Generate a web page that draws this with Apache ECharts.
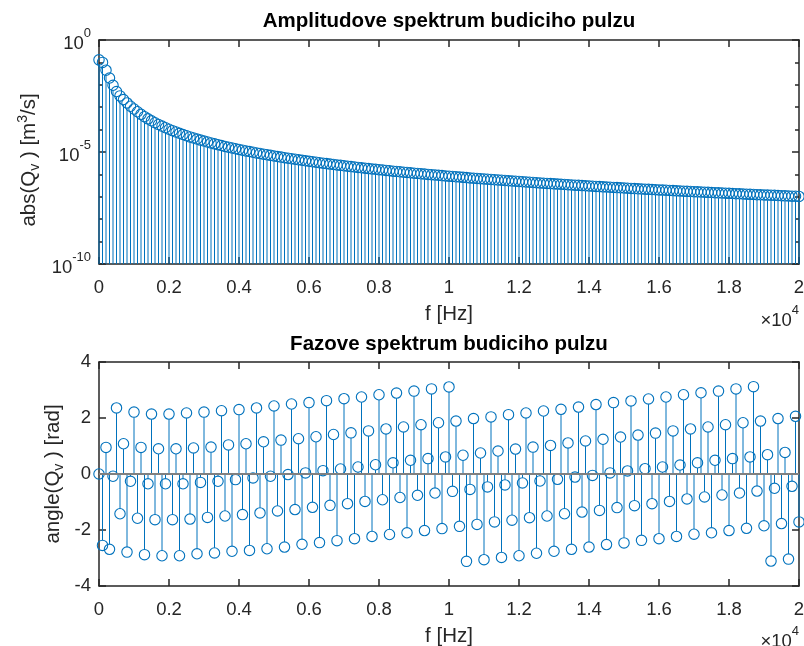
<!DOCTYPE html>
<html><head><meta charset="utf-8">
<script src="https://cdn.jsdelivr.net/npm/echarts@6/dist/echarts.min.js"></script>
<style>html,body{margin:0;padding:0;background:#fff}#c{width:804px;height:646px}</style>
</head><body><div id="c"></div>
<script>
// frequency grid [Hz]
const freqHz = [0,100,200,300,400,500,600,700,800,900,1000,1100,1200,1300,1400,1500,1600,1700,1800,1900,
2000,2100,2200,2300,2400,2500,2600,2700,2800,2900,3000,3100,3200,3300,3400,3500,3600,3700,3800,3900,
4000,4100,4200,4300,4400,4500,4600,4700,4800,4900,5000,5100,5200,5300,5400,5500,5600,5700,5800,5900,
6000,6100,6200,6300,6400,6500,6600,6700,6800,6900,7000,7100,7200,7300,7400,7500,7600,7700,7800,7900,
8000,8100,8200,8300,8400,8500,8600,8700,8800,8900,9000,9100,9200,9300,9400,9500,9600,9700,9800,9900,
10000,10100,10200,10300,10400,10500,10600,10700,10800,10900,11000,11100,11200,11300,11400,11500,11600,11700,11800,11900,
12000,12100,12200,12300,12400,12500,12600,12700,12800,12900,13000,13100,13200,13300,13400,13500,13600,13700,13800,13900,
14000,14100,14200,14300,14400,14500,14600,14700,14800,14900,15000,15100,15200,15300,15400,15500,15600,15700,15800,15900,
16000,16100,16200,16300,16400,16500,16600,16700,16800,16900,17000,17100,17200,17300,17400,17500,17600,17700,17800,17900,
18000,18100,18200,18300,18400,18500,18600,18700,18800,18900,19000,19100,19200,19300,19400,19500,19600,19700,19800,19900,
20000];

// |Q_v| [m^3/s]
const ampAbs = [1.3e-1,1.0e-1,4.5e-2,2.0e-2,9.5e-3,5.0e-3,3.2e-3,2.2e-3,1.55e-3,1.1e-3,
8.32e-4,6.25e-4,4.81e-4,3.79e-4,3.03e-4,2.47e-4,2.03e-4,1.69e-4,1.43e-4,1.21e-4,
1.04e-4,8.98e-5,7.81e-5,6.84e-5,6.02e-5,5.32e-5,4.73e-5,4.23e-5,3.79e-5,3.41e-5,
3.08e-5,2.79e-5,2.54e-5,2.32e-5,2.12e-5,1.94e-5,1.78e-5,1.64e-5,1.52e-5,1.40e-5,
1.30e-5,1.21e-5,1.12e-5,1.05e-5,9.77e-6,9.13e-6,8.55e-6,8.01e-6,7.52e-6,7.07e-6,
6.66e-6,6.27e-6,5.92e-6,5.59e-6,5.28e-6,5.00e-6,4.74e-6,4.49e-6,4.26e-6,4.05e-6,
3.85e-6,3.67e-6,3.49e-6,3.33e-6,3.17e-6,3.03e-6,2.89e-6,2.77e-6,2.65e-6,2.53e-6,
2.43e-6,2.32e-6,2.23e-6,2.14e-6,2.05e-6,1.97e-6,1.90e-6,1.82e-6,1.75e-6,1.69e-6,
1.63e-6,1.57e-6,1.51e-6,1.46e-6,1.40e-6,1.35e-6,1.31e-6,1.26e-6,1.22e-6,1.18e-6,
1.14e-6,1.10e-6,1.07e-6,1.03e-6,1.00e-6,9.70e-7,9.40e-7,9.12e-7,8.84e-7,8.57e-7,
8.32e-7,8.08e-7,7.84e-7,7.61e-7,7.40e-7,7.19e-7,6.99e-7,6.79e-7,6.60e-7,6.42e-7,
6.25e-7,6.08e-7,5.92e-7,5.77e-7,5.62e-7,5.47e-7,5.33e-7,5.19e-7,5.06e-7,4.94e-7,
4.81e-7,4.70e-7,4.58e-7,4.47e-7,4.36e-7,4.26e-7,4.16e-7,4.06e-7,3.97e-7,3.88e-7,
3.79e-7,3.70e-7,3.62e-7,3.54e-7,3.46e-7,3.38e-7,3.31e-7,3.24e-7,3.17e-7,3.10e-7,
3.03e-7,2.97e-7,2.91e-7,2.85e-7,2.79e-7,2.73e-7,2.67e-7,2.62e-7,2.57e-7,2.52e-7,
2.47e-7,2.42e-7,2.37e-7,2.32e-7,2.28e-7,2.23e-7,2.19e-7,2.15e-7,2.11e-7,2.07e-7,
2.03e-7,1.99e-7,1.96e-7,1.92e-7,1.89e-7,1.85e-7,1.82e-7,1.79e-7,1.75e-7,1.72e-7,
1.69e-7,1.66e-7,1.64e-7,1.61e-7,1.58e-7,1.55e-7,1.53e-7,1.50e-7,1.48e-7,1.45e-7,
1.43e-7,1.40e-7,1.38e-7,1.36e-7,1.34e-7,1.31e-7,1.29e-7,1.27e-7,1.25e-7,1.23e-7,
1.21e-7,1.19e-7,1.18e-7,1.16e-7,1.14e-7,1.12e-7,1.10e-7,1.09e-7,1.07e-7,1.06e-7,
1.04e-7];

// angle(Q_v) [rad]
const phaseRad = [0,-2.55,0.95,-2.69,-0.08,2.36,-1.42,1.08,-2.79,-0.26,
2.21,-1.58,0.95,-2.88,-0.35,2.14,-1.63,0.90,-2.92,-0.35,
2.14,-1.63,0.90,-2.92,-0.35,2.18,-1.61,0.93,-2.85,-0.30,
2.21,-1.55,0.96,-2.82,-0.26,2.26,-1.50,1.04,-2.76,-0.20,
2.30,-1.45,1.08,-2.73,-0.14,2.36,-1.39,1.15,-2.67,-0.08,
2.43,-1.32,1.21,-2.61,-0.02,2.50,-1.27,1.26,-2.51,0.04,
2.55,-1.19,1.33,-2.45,0.12,2.62,-1.12,1.41,-2.38,0.18,
2.69,-1.06,1.47,-2.31,0.25,2.75,-0.98,1.54,-2.23,0.33,
2.83,-0.92,1.61,-2.16,0.40,2.89,-0.84,1.68,-2.10,0.49,
2.96,-0.76,1.76,-2.02,0.55,3.04,-0.68,1.83,-1.95,0.61,
3.11,-0.62,1.89,-1.87,0.67,-3.12,-0.55,1.98,-1.80,0.75,
-3.06,-0.46,2.04,-1.71,0.82,-2.98,-0.39,2.12,-1.65,0.89,
-2.92,-0.32,2.18,-1.56,0.96,-2.83,-0.25,2.25,-1.50,1.02,
-2.76,-0.19,2.31,-1.42,1.11,-2.69,-0.11,2.39,-1.36,1.18,
-2.61,-0.05,2.48,-1.30,1.24,-2.52,0.04,2.55,-1.20,1.32,
-2.46,0.11,2.61,-1.13,1.39,-2.37,0.19,2.68,-1.06,1.46,
-2.31,0.25,2.75,-0.98,1.54,-2.23,0.32,2.83,-0.89,1.61,
-2.15,0.40,2.90,-0.82,1.68,-2.10,0.49,2.96,-0.75,1.76,
-2.02,0.55,3.04,-0.68,1.83,-1.94,0.61,3.12,-0.61,1.89,
-1.85,0.69,-3.11,-0.51,1.98,-1.77,0.77,-3.04,-0.44,2.06,
-1.71];

// tick labels
const xTickValues = [0,2000,4000,6000,8000,10000,12000,14000,16000,18000,20000];
const xTickLabels = ['0','0.2','0.4','0.6','0.8','1','1.2','1.4','1.6','1.8','2'];
const ampMajorTicks = [1e-10,1e-5,1];
const ampMajorExp = ['-10','-5','0'];
const ampMinorTicks = [1e-10,1e-9,1e-8,1e-7,1e-6,1e-5,1e-4,1e-3,1e-2,1e-1,1];
const phaseTicks = [-4,-2,0,2,4];

const FONT = '"Liberation Sans", Arial, Helvetica, sans-serif';
const AX = '#262626';
const BLUE = '#0072BD';
const R = 5.2;

const chart = echarts.init(document.getElementById('c'), null, {renderer: 'canvas'});

function xAxisDef(grid, pos, labels) {
  return {
    gridIndex: grid, type: 'value', position: pos, min: 0, max: 20000, interval: 2000,
    axisLine: {show: true, onZero: false, lineStyle: {color: AX, width: 1.5}},
    axisTick: {show: true, inside: true, length: 7, lineStyle: {color: AX, width: 1.5}},
    axisLabel: {show: labels, margin: 14, color: AX, fontSize: 18.5, fontFamily: FONT,
      formatter: v => xTickLabels[xTickValues.indexOf(v)] ?? ''},
    splitLine: {show: false},
    name: labels ? 'f [Hz]' : '', nameLocation: 'middle', nameGap: 40,
    nameTextStyle: {color: AX, fontSize: 20.5, fontFamily: FONT}
  };
}

const supRich = {
  b: {fontSize: 18.5, lineHeight: 26, verticalAlign: 'bottom', color: AX, fontFamily: FONT},
  s: {fontSize: 13, lineHeight: 13, verticalAlign: 'top', color: AX, fontFamily: FONT}
};

function logAxis(pos, major, labels) {
  return {
    gridIndex: 0, type: 'log', logBase: 10, position: pos, min: 1e-10, max: 1,
    axisLine: {show: major, onZero: false, lineStyle: {color: AX, width: 1.5}},
    axisTick: {show: true, inside: true, length: major ? 7 : 4,
      customValues: major ? ampMajorTicks : ampMinorTicks, lineStyle: {color: AX, width: 1.5}},
    axisLabel: {show: labels, customValues: ampMajorTicks, margin: 8,
      formatter: v => {
        let best = 0, bd = Infinity;
        ampMajorTicks.forEach((t, i) => { const d = Math.abs(Math.log10(t) - Math.log10(v)); if (d < bd) { bd = d; best = i; } });
        return '{b|10}{s|' + ampMajorExp[best] + '}';
      },
      rich: supRich},
    splitLine: {show: false}
  };
}

function phaseAxis(pos, labels) {
  return {
    gridIndex: 1, type: 'value', position: pos, min: -4, max: 4, interval: 2,
    axisLine: {show: true, onZero: false, lineStyle: {color: AX, width: 1.5}},
    axisTick: {show: true, inside: true, length: 7, lineStyle: {color: AX, width: 1.5}},
    axisLabel: {show: labels, margin: 8, color: AX, fontSize: 18.5, fontFamily: FONT,
      formatter: v => phaseTicks.includes(v) ? String(v) : ''},
    splitLine: {show: false}
  };
}

function stemRender(baseVal) {
  return function (params, api) {
    const x = api.value(0), y = api.value(1);
    const p = api.coord([x, y]);
    const b = api.coord([x, baseVal]);
    const dir = p[1] < b[1] ? 1 : -1;
    let yEnd = p[1] + dir * R;
    if ((b[1] - yEnd) * dir < 0) yEnd = b[1];
    return {
      type: 'group',
      children: [
        {type: 'line', shape: {x1: p[0], y1: b[1], x2: p[0], y2: yEnd}, style: {stroke: BLUE, lineWidth: 1}},
        {type: 'circle', shape: {cx: p[0], cy: p[1], r: R}, style: {fill: 'none', stroke: BLUE, lineWidth: 1.1}}
      ]
    };
  };
}

const labRich = {
  a: {fontSize: 20.5, lineHeight: 26, fontFamily: FONT, fill: AX},
  s: {fontSize: 14, lineHeight: 14, verticalAlign: 'bottom', fontFamily: FONT, fill: AX},
  p: {fontSize: 14, lineHeight: 14, verticalAlign: 'top', fontFamily: FONT, fill: AX}
};
const expRich = {
  a: {fontSize: 18.5, lineHeight: 26, verticalAlign: 'bottom', fontFamily: FONT, fill: AX},
  s: {fontSize: 13, lineHeight: 9, verticalAlign: 'top', fontFamily: FONT, fill: AX}
};

const option = {
  animation: false,
  textStyle: {fontFamily: FONT},
  grid: [
    {left: 99, top: 40, width: 700, height: 224, outerBoundsMode: 'none', containLabel: false},
    {left: 99, top: 362, width: 700, height: 224, outerBoundsMode: 'none', containLabel: false}
  ],
  xAxis: [xAxisDef(0, 'bottom', true), xAxisDef(0, 'top', false), xAxisDef(1, 'bottom', true), xAxisDef(1, 'top', false)],
  yAxis: [logAxis('left', true, true), logAxis('left', false, false), logAxis('right', true, false), logAxis('right', false, false),
          phaseAxis('left', true), phaseAxis('right', false)],
  series: [
    {type: 'custom', xAxisIndex: 0, yAxisIndex: 0, silent: true, clip: false, z: 3,
     renderItem: stemRender(1e-10), data: freqHz.map((f, i) => [f, ampAbs[i]])},
    {type: 'line', xAxisIndex: 2, yAxisIndex: 4, silent: true, symbol: 'none', z: 4,
     lineStyle: {color: '#808080', width: 2}, data: [[freqHz[0], 0], [freqHz[freqHz.length - 1], 0]]},
    {type: 'custom', xAxisIndex: 2, yAxisIndex: 4, silent: true, clip: false, z: 3,
     renderItem: stemRender(0), data: freqHz.map((f, i) => [f, phaseRad[i]])}
  ],
  graphic: [
    {type: 'text', x: 449, y: 21, style: {text: 'Amplitudove spektrum budiciho pulzu', fill: '#000',
      font: 'bold 20.5px ' + FONT, align: 'center', verticalAlign: 'middle'}},
    {type: 'text', x: 449, y: 344.5, style: {text: 'Fazove spektrum budiciho pulzu', fill: '#000',
      font: 'bold 20.5px ' + FONT, align: 'center', verticalAlign: 'middle'}},
    {type: 'text', x: 29, y: 160, rotation: Math.PI / 2, style: {text: '{a|abs(Q}{s|v}{a| ) [m}{p|3}{a|/s]}',
      rich: labRich, align: 'center', verticalAlign: 'middle'}},
    {type: 'text', x: 53, y: 474, rotation: Math.PI / 2, style: {text: '{a|angle(Q}{s|v}{a| ) [rad]}',
      rich: labRich, align: 'center', verticalAlign: 'middle'}},
    {type: 'text', x: 799, y: 317, style: {text: '{a|×10}{s|4}', rich: expRich, align: 'right', verticalAlign: 'middle'}},
    {type: 'text', x: 799, y: 638, style: {text: '{a|×10}{s|4}', rich: expRich, align: 'right', verticalAlign: 'middle'}}
  ]
};
chart.setOption(option);
</script></body></html>
